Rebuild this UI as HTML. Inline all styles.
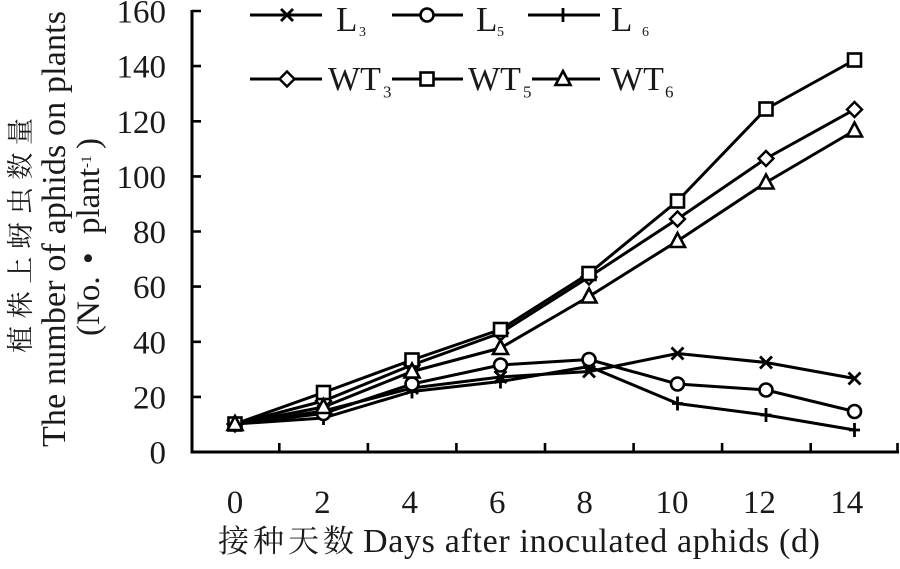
<!DOCTYPE html>
<html>
<head>
<meta charset="utf-8">
<style>
html,body{margin:0;padding:0;background:#fff;}
svg{display:block;}
text{font-family:"Liberation Serif","Times New Roman",Times,serif;fill:#1a1a1a;}
text.cjk{font-family:"Liberation Serif","Noto Serif CJK SC","Noto Sans CJK SC",serif;}
</style>
</head>
<body>
<svg width="900" height="569" viewBox="0 0 900 569" xmlns="http://www.w3.org/2000/svg">
<defs>
  <g id="mSq"><rect x="-6.5" y="-6.5" width="13" height="13" fill="#fff" stroke="#000" stroke-width="2.6"/></g>
  <g id="mCi"><circle cx="0" cy="0" r="6.5" fill="#fff" stroke="#000" stroke-width="2.6"/></g>
  <g id="mDi"><polygon points="0,-7.5 7.5,0 0,7.5 -7.5,0" fill="#fff" stroke="#000" stroke-width="2.4"/></g>
  <g id="mTr"><polygon points="0,-8 7.5,6 -7.5,6" fill="#fff" stroke="#000" stroke-width="2.6" stroke-linejoin="miter"/></g>
  <g id="mX"><path d="M-6,-6 L6,6 M-6,6 L6,-6" stroke="#000" stroke-width="2.8" fill="none"/></g>
  <g id="mPl"><path d="M0,-7 L0,7 M-5.5,0 L5.5,0" stroke="#000" stroke-width="2.8" fill="none"/></g>
</defs>

<!-- Axes -->
<g stroke="#000" fill="none">
  <path d="M192,10 L192,452 L899,452" stroke-width="3"/>
  <g stroke-width="2.6">
    <path d="M192,11 H201 M192,66.1 H201 M192,121.3 H201 M192,176.4 H201 M192,231.5 H201 M192,286.6 H201 M192,341.8 H201 M192,396.9 H201"/>
    <path d="M279.3,452 V443 M367.9,452 V443 M456.4,452 V443 M545,452 V443 M633.6,452 V443 M722.1,452 V443 M810.7,452 V443 M897.5,452 V443"/>
  </g>
</g>

<!-- Y tick labels -->
<g text-anchor="end">
  <text x="166" y="22.5" font-size="33">160</text>
  <text x="166" y="77.6" font-size="33">140</text>
  <text x="166" y="132.8" font-size="33">120</text>
  <text x="166" y="187.9" font-size="33">100</text>
  <text x="166" y="243" font-size="33">80</text>
  <text x="166" y="298.1" font-size="33">60</text>
  <text x="166" y="353.3" font-size="33">40</text>
  <text x="166" y="408.4" font-size="33">20</text>
  <text x="166" y="463.5" font-size="33">0</text>
</g>

<!-- X tick labels -->
<g text-anchor="middle">
  <text x="235" y="513" font-size="33">0</text>
  <text x="322.4" y="513" font-size="33">2</text>
  <text x="409.8" y="513" font-size="33">4</text>
  <text x="497.2" y="513" font-size="33">6</text>
  <text x="584.6" y="513" font-size="33">8</text>
  <text x="672" y="513" font-size="33">10</text>
  <text x="759.4" y="513" font-size="33">12</text>
  <text x="846.8" y="513" font-size="33">14</text>
</g>

<!-- X axis title -->
<text class="cjk" x="218" y="552" font-size="31" textLength="136" lengthAdjust="spacing" fill="#333">接种天数</text>
<text x="363" y="552" font-size="34" textLength="457" lengthAdjust="spacing">Days after inoculated aphids (d)</text>

<!-- Y axis titles -->
<text class="cjk" x="30" y="353" font-size="27" transform="rotate(-90 30 353)" textLength="235" lengthAdjust="spacing" fill="#333">植株上蚜虫数量</text>
<text x="65" y="447" font-size="34" transform="rotate(-90 65 447)" textLength="436" lengthAdjust="spacing">The number of aphids on plants</text>
<text x="99" y="336" font-size="33" transform="rotate(-90 99 336)">(No.</text>
<text x="99" y="264" font-size="33" transform="rotate(-90 99 264)">•</text>
<text x="99" y="234" font-size="33" transform="rotate(-90 99 234)">plant</text>
<text x="91" y="168" font-size="15" transform="rotate(-90 91 168)">-1</text>
<text x="99" y="149" font-size="33" transform="rotate(-90 99 149)">)</text>

<!-- Series lines -->
<g fill="none" stroke="#000" stroke-width="3" stroke-linejoin="round">
  <polyline points="235,424 323.5,392.5 412,360 500.5,329.5 589,273.5 677.5,201 766,109 854.5,60"/>
  <polyline points="235,424 323.5,401 412,365 500.5,333 589,277 677.5,219 766,158.5 854.5,109.5"/>
  <polyline points="235,424 323.5,407 412,371.5 500.5,348 589,296.5 677.5,241 766,182.5 854.5,130.5"/>
  <polyline points="235,424 323.5,413.5 412,384 500.5,365 589,359.5 677.5,384 766,390 854.5,411.5"/>
  <polyline points="235,424 323.5,411 412,388 500.5,377 589,371.5 677.5,353.5 766,362.5 854.5,378.5"/>
  <polyline points="235,424 323.5,418 412,391.5 500.5,381.5 589,366.5 677.5,403.5 766,415 854.5,430"/>
</g>

<!-- Markers -->
<g>
  <use href="#mPl" x="235" y="424"/><use href="#mPl" x="323.5" y="418"/><use href="#mPl" x="412" y="391.5"/><use href="#mPl" x="500.5" y="381.5"/><use href="#mPl" x="589" y="366.5"/><use href="#mPl" x="677.5" y="403.5"/><use href="#mPl" x="766" y="415"/><use href="#mPl" x="854.5" y="430"/>
  <use href="#mX" x="235" y="424"/><use href="#mX" x="323.5" y="411"/><use href="#mX" x="412" y="388"/><use href="#mX" x="500.5" y="377"/><use href="#mX" x="589" y="371.5"/><use href="#mX" x="677.5" y="353.5"/><use href="#mX" x="766" y="362.5"/><use href="#mX" x="854.5" y="378.5"/>
  <use href="#mCi" x="235" y="424"/><use href="#mCi" x="323.5" y="413.5"/><use href="#mCi" x="412" y="384"/><use href="#mCi" x="500.5" y="365"/><use href="#mCi" x="589" y="359.5"/><use href="#mCi" x="677.5" y="384"/><use href="#mCi" x="766" y="390"/><use href="#mCi" x="854.5" y="411.5"/>
  <use href="#mDi" x="235" y="424"/><use href="#mDi" x="323.5" y="401"/><use href="#mDi" x="412" y="365"/><use href="#mDi" x="500.5" y="333"/><use href="#mDi" x="589" y="277"/><use href="#mDi" x="677.5" y="219"/><use href="#mDi" x="766" y="158.5"/><use href="#mDi" x="854.5" y="109.5"/>
  <use href="#mSq" x="235" y="424"/><use href="#mSq" x="323.5" y="392.5"/><use href="#mSq" x="412" y="360"/><use href="#mSq" x="500.5" y="329.5"/><use href="#mSq" x="589" y="273.5"/><use href="#mSq" x="677.5" y="201"/><use href="#mSq" x="766" y="109"/><use href="#mSq" x="854.5" y="60"/>
  <use href="#mTr" x="235" y="424"/><use href="#mTr" x="323.5" y="407"/><use href="#mTr" x="412" y="371.5"/><use href="#mTr" x="500.5" y="348"/><use href="#mTr" x="589" y="296.5"/><use href="#mTr" x="677.5" y="241"/><use href="#mTr" x="766" y="182.5"/><use href="#mTr" x="854.5" y="130.5"/>
</g>

<!-- Legend -->
<g stroke="#000" stroke-width="3" fill="none">
  <path d="M250,15 H322 M392,15 H463 M528,15 H600 M250,79 H322 M392,79 H463 M532,79 H600"/>
</g>
<use href="#mX" x="287" y="15"/>
<use href="#mCi" x="427" y="15"/>
<use href="#mPl" x="563" y="15"/>
<use href="#mDi" x="287" y="79"/>
<use href="#mSq" x="427" y="79"/>
<use href="#mTr" x="563" y="79"/>

<text x="336" y="31" font-size="35">L</text>
<text x="476" y="31" font-size="35">L</text>
<text x="611" y="31" font-size="35">L</text>
<text x="328" y="90" font-size="34">WT</text>
<text x="468" y="90" font-size="34">WT</text>
<text x="611" y="90" font-size="34">WT</text>

<text x="359" y="36" font-size="14">3</text>
<text x="497" y="36" font-size="14">5</text>
<text x="642" y="36" font-size="14">6</text>
<text x="383" y="97.5" font-size="17">3</text>
<text x="523" y="97.5" font-size="17">5</text>
<text x="665" y="97.5" font-size="17">6</text>
</svg>
</body>
</html>
